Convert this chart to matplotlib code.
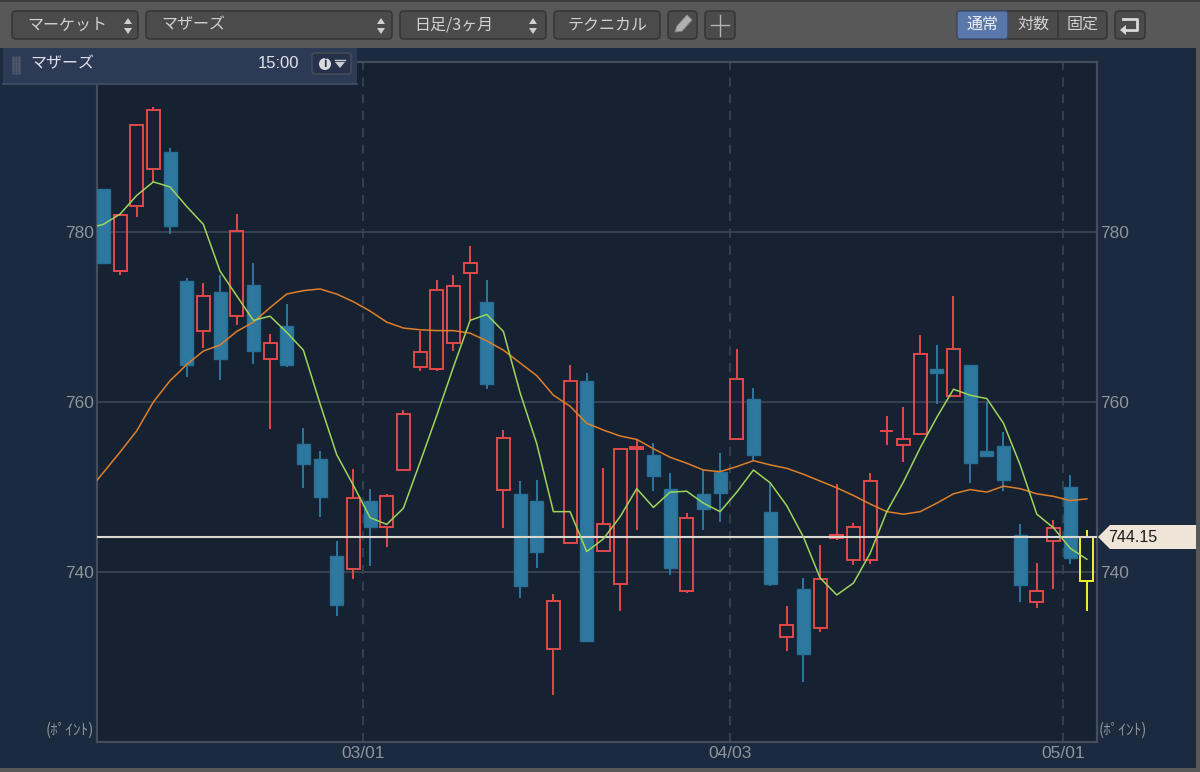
import matplotlib
matplotlib.use("Agg")
import matplotlib.pyplot as plt
from matplotlib.patches import FancyBboxPatch, Rectangle, Polygon, Circle

plt.rcParams['font.family'] = ['Liberation Sans', 'Noto Sans CJK JP', 'DejaVu Sans']

opens = [785.1,775.4,783.1,787.4,789.4,774.2,768.3,772.9,770.1,773.8,
         765.1,769.0,755.0,753.3,741.9,740.3,748.4,745.3,752.0,764.1,
         763.9,766.9,775.2,771.8,749.7,749.2,748.3,731.0,743.4,762.5,
         742.5,738.6,754.5,753.8,749.8,737.8,749.2,751.8,755.6,760.4,
         747.1,732.3,738.0,733.4,744.0,741.4,741.4,756.6,755.0,756.2,
         763.9,760.7,764.3,754.2,754.8,744.3,736.5,743.7,750.0,738.9]
closes = [776.3,782.0,792.6,794.4,780.7,764.3,772.5,765.1,780.1,766.0,
          766.9,764.3,752.7,748.8,736.1,748.7,745.3,748.9,758.6,765.9,
          773.2,773.7,776.3,762.1,755.8,738.3,742.3,736.6,762.5,731.9,
          745.6,754.5,754.7,751.3,740.5,746.4,747.4,749.3,762.7,753.8,
          738.6,733.8,730.4,739.2,744.4,745.3,750.7,756.6,755.6,765.6,
          763.4,766.2,752.8,753.7,750.8,738.5,737.8,745.2,741.6,744.15]
highs = [785.1,782.0,792.6,794.7,789.9,774.6,774.0,774.9,782.1,776.4,
         768.0,771.5,757.0,754.2,743.6,752.1,749.8,749.2,759.1,768.4,
         774.3,775.0,778.4,774.4,756.7,750.7,750.8,737.4,764.3,763.4,
         752.2,754.5,755.6,755.2,751.6,746.9,752.0,754.0,766.2,761.7,
         750.6,736.0,739.3,743.2,750.4,745.8,751.7,758.4,759.4,767.9,
         766.7,772.5,764.3,760.0,756.5,745.6,741.1,746.1,751.4,745.0]
lows = [776.3,775.0,781.8,785.9,779.8,763.0,766.3,762.6,769.1,764.5,
        756.8,764.1,749.9,746.5,734.8,739.2,740.7,743.0,752.0,763.6,
        763.7,766.0,769.6,761.5,745.2,736.9,740.5,725.5,743.4,731.9,
        742.5,735.4,744.9,749.5,739.7,737.5,745.0,745.9,755.6,753.2,
        738.4,730.7,727.1,732.9,743.8,740.8,740.9,754.9,753.0,756.2,
        759.8,760.7,750.5,753.7,749.5,736.5,735.8,738.0,740.9,735.4]
# moving averages start one session before the first visible candle
ma_short = [780.4,780.9,782.1,784.3,785.9,785.3,783.0,780.9,775.4,772.5,769.6,
            770.1,768.2,766.1,759.8,753.8,750.2,746.4,745.6,747.5,752.9,
            758.4,764.1,769.6,770.3,768.3,761.1,755.1,747.1,747.1,742.4,
            743.9,746.5,749.8,747.6,749.4,749.5,748.1,747.1,749.4,752.0,
            750.5,747.8,744.1,739.3,737.3,738.7,742.2,747.1,750.6,754.6,
            758.2,761.5,760.8,760.4,757.5,752.6,746.8,745.2,742.8,741.5]
ma_long = [749.3,751.7,754.1,756.6,760.0,762.5,764.4,766.0,766.7,768.3,769.4,
           771.1,772.7,773.1,773.3,772.7,771.8,770.7,769.4,768.7,768.5,
           768.4,768.4,768.1,767.2,766.1,764.6,763.1,760.8,759.5,757.5,
           756.7,756.0,755.6,754.5,753.5,752.8,752.0,751.8,752.4,753.1,
           752.6,752.2,751.5,750.7,749.9,749.0,748.0,747.1,746.8,747.1,
           748.1,749.2,749.7,749.4,750.1,749.8,749.2,748.9,748.4,748.6]
last_price = 744.15
y_ticks = [740, 760, 780]
date_pos = [15.6, 37.6, 57.6]
date_labels = ['03/01', '04/03', '05/01']
tool_left = ['マーケット', 'マザーズ', '日足/3ヶ月', 'テクニカル']
scale_modes = ['通常', '対数', '固定']
unit_label = '(ﾎﾟｲﾝﾄ)'
header_name = 'マザーズ'
header_time = '15:00'

RED = '#e24a4a'; BLUE = '#2c789f'; YEL = '#f2f034'
GRID = '#3a4452'; SPINE = '#434d5c'; TXT = '#8f949b'
PANEL = '#1b2a3f'; PLOT = '#162231'

fig = plt.figure(figsize=(12, 7.72), dpi=100, facecolor='#585858')

bg = fig.add_axes([0, 0, 1, 1], zorder=0)
bg.set_xlim(0, 1200); bg.set_ylim(772, 0); bg.axis('off')
bg.add_patch(Rectangle((0, 48), 1196, 720, fc=PANEL, ec='none'))
bg.add_patch(Rectangle((0, 0), 1200, 2, fc='#3c3c3c', ec='none'))

ax = fig.add_axes([97/1200, 1-742/772, 1000/1200, 680/772], zorder=1, facecolor=PLOT)
ax.set_xlim(-0.38, 59.61)
ax.set_ylim(720, 800)
for s in ax.spines.values():
    s.set_color(SPINE); s.set_linewidth(1.6)
ax.set_yticks(y_ticks)
ax.set_yticklabels([str(v) for v in y_ticks])
ax.set_xticks(date_pos)
ax.set_xticklabels(date_labels)
ax.tick_params(axis='both', length=0, labelsize=12.5, labelcolor=TXT)
ax.tick_params(axis='y', labelleft=True, labelright=True, pad=2)
ax.tick_params(axis='x', pad=3)
ax.grid(axis='y', color=GRID, lw=1.3, zorder=1)
ax.grid(axis='x', color='#3d4859', lw=1.1, ls=(0, (6, 5)), zorder=1)
ax.set_axisbelow(True)

w = 0.78
n = len(opens)
for i in range(n):
    o, c, h, l = opens[i], closes[i], highs[i], lows[i]
    top, bot = max(o, c), min(o, c)
    up = c >= o
    col = YEL if i == n-1 else (RED if up else BLUE)
    ax.vlines(i, top, h, color=col, lw=1.4, zorder=3)
    ax.vlines(i, l, bot, color=col, lw=1.4, zorder=3)
    if up:
        ax.bar(i, top-bot, width=w, bottom=bot, facecolor='none', edgecolor=col, lw=1.4, zorder=3)
    else:
        ax.bar(i, top-bot, width=w, bottom=bot, facecolor=col, edgecolor='#2a6f95', lw=1.0, zorder=3)

ax.axhline(last_price, color='#dcd9d0', lw=1.5, zorder=4)
x = list(range(-1, n))
ax.plot(x, ma_long, color='#e07f2a', lw=1.1, zorder=5)
ax.plot(x, ma_short, color='#9fd45a', lw=1.1, zorder=5)

ov = fig.add_axes([0, 0, 1, 1], zorder=2)
ov.set_xlim(0, 1200); ov.set_ylim(772, 0); ov.axis('off'); ov.patch.set_alpha(0)
JP = ['Noto Sans CJK JP', 'DejaVu Sans']

def btn(x0, x1, fc='#4b4b4b'):
    ov.add_patch(FancyBboxPatch((x0, 11), x1-x0, 28, boxstyle='round,pad=0,rounding_size=4',
                                fc=fc, ec='#373737', lw=1.2))

def updown(x0):
    ov.add_patch(Polygon([(x0-4, 24), (x0+4, 24), (x0, 18)], fc='#d0d0d0', ec='none'))
    ov.add_patch(Polygon([(x0-4, 28), (x0+4, 28), (x0, 34)], fc='#d0d0d0', ec='none'))

ranges = [(12, 138), (146, 392), (400, 546), (554, 660)]
text_x = [27, 161, 414, 567]
for (a, b), tx, s in zip(ranges, text_x, tool_left):
    btn(a, b)
    ov.text(tx, 25, s, color='#d2d2d2', fontsize=11.5, va='center', ha='left', family=JP)
for cx in (128, 381, 533):
    updown(cx)

btn(668, 697); btn(705, 735)
ov.add_patch(Polygon([(675, 32), (677, 26), (687, 15), (692, 20), (682, 31)], fc='#b0b0b0', ec='#8c8c8c', lw=0.6))
ov.plot([720, 720], [15, 36], color='#b5b5b5', lw=1.0)
ov.plot([711, 729], [25, 25], color='#b5b5b5', lw=1.0)

btn(957, 1107)
ov.add_patch(FancyBboxPatch((957, 11), 51, 28, boxstyle='round,pad=0,rounding_size=3', fc='#5a77ab', ec='#3c4c6c', lw=1))
ov.plot([1058, 1058], [11, 39], color='#373737', lw=1.2)
for cx, s, col in zip((983, 1033, 1083), scale_modes, ('#eef0f5', '#d2d2d2', '#d2d2d2')):
    ov.text(cx, 24.5, s, color=col, fontsize=11.5, ha='center', va='center', family=JP)
btn(1115, 1145)
ov.plot([1123, 1137, 1137, 1123], [19, 19, 30, 30], color='#d8d8d8', lw=2)
ov.add_patch(Polygon([(1120, 30), (1126, 25), (1126, 35)], fc='#d8d8d8', ec='none'))

ov.add_patch(Rectangle((3, 48), 354, 36, fc='#2d3a56', ec='none'))
ov.plot([3, 357], [84, 84], color='#3f4960', lw=1.4)
for gx in (13, 16, 19):
    ov.plot([gx]*9, [55+2*k+2 for k in range(9)], ls='none', marker='s', ms=0.8, color='#4d5870')
ov.text(30, 64, header_name, color='#dfe2e8', fontsize=11.5, va='center', family=JP)
ov.text(299, 64, header_time, color='#dfe2e8', fontsize=12, va='center', ha='right')
ov.add_patch(FancyBboxPatch((312, 53), 39, 21, boxstyle='round,pad=0,rounding_size=3', fc='#27324a', ec='#444a58', lw=1.2))
ov.add_patch(Circle((325, 64), 6, fc='#d8dae0', ec='none'))
ov.text(325, 64, 'i', color='#27324a', fontsize=9, fontweight='bold', ha='center', va='center')
ov.add_patch(Polygon([(335, 62), (345, 62), (340, 68)], fc='#c9ccd4', ec='none'))
ov.plot([335, 345], [60, 60], color='#c9ccd4', lw=1)

ov.add_patch(Polygon([(1098, 537), (1110, 525), (1196, 525), (1196, 549), (1110, 549)], fc='#efe4d8', ec='none'))
ov.text(1108, 537.5, f'{last_price:.2f}', color='#1a1a1a', fontsize=11.5, va='center')

ov.text(94, 730.5, unit_label, color=TXT, fontsize=11, ha='right', va='center', family=JP)
ov.text(1099, 730.5, unit_label, color=TXT, fontsize=11, ha='left', va='center', family=JP)

fig.savefig('out.png', dpi=100, facecolor=fig.get_facecolor())
